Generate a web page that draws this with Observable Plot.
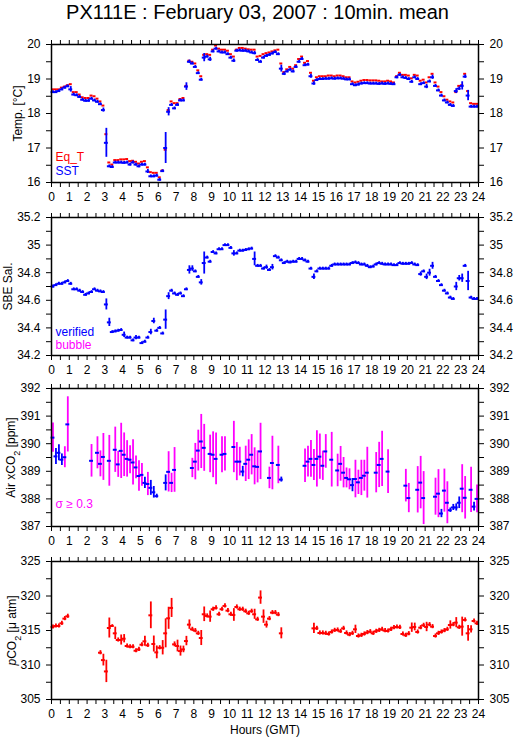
<!DOCTYPE html>
<html><head><meta charset="utf-8">
<script src="https://cdn.jsdelivr.net/npm/d3@7"></script>
<script src="https://cdn.jsdelivr.net/npm/@observablehq/plot@0.6"></script>
<style>
body{margin:0;background:#fff;font-family:"Liberation Sans",Arial,Helvetica,sans-serif;}
#wrap{position:relative;width:515px;height:739px;overflow:hidden;}
#title{position:absolute;left:0;width:515px;top:0;text-align:center;font-size:20px;line-height:24px;color:#000;}
.panel{position:absolute;left:0;}
</style></head><body><div id="wrap"><div id="title">PX111E : February 03, 2007 : 10min. mean</div></div>
<script>
// ---- time grid: 10-minute means, 144 per day ----
const binMinutes = 10;
const hourTicks = [0,1,2,3,4,5,6,7,8,9,10,11,12,13,14,15,16,17,18,19,20,21,22,23,24];
const halfHourTicks = [0.5,1.5,2.5,3.5,4.5,5.5,6.5,7.5,8.5,9.5,10.5,11.5,12.5,13.5,14.5,15.5,16.5,17.5,18.5,19.5,20.5,21.5,22.5,23.5];

// ---- Panel 1: temperature ----
const tempTicks = [16,17,18,19,20];
const tempMinor = [16.5,17.5,18.5,19.5];
const eqT = [18.70,18.70,18.70,18.75,18.78,18.82,18.85,18.62,18.62,18.55,
 18.47,18.45,18.45,18.52,18.50,18.43,18.35,18.23,17.40,16.58,
 16.52,16.65,16.65,16.67,16.67,16.68,16.62,16.63,16.60,16.55,
 16.60,16.62,16.44,16.30,16.28,16.28,16.15,16.35,16.95,18.10,
 18.35,18.30,18.30,18.42,18.45,18.80,19.53,19.50,19.45,19.25,
 19.08,19.70,19.72,19.70,19.85,19.97,19.88,19.85,19.85,19.82,
 19.72,19.65,19.85,19.90,19.90,19.88,19.86,19.85,19.85,19.65,
 19.67,19.72,19.75,19.77,19.80,19.83,19.85,19.45,19.20,19.28,
 19.35,19.30,19.40,19.58,19.65,19.47,19.52,19.18,18.95,19.05,
 19.08,19.08,19.08,19.10,19.10,19.08,19.10,19.10,19.08,19.05,
 19.05,18.93,18.90,18.92,18.95,18.97,18.97,18.96,18.96,18.96,
 18.95,18.93,18.93,18.95,18.93,18.90,19.08,19.18,19.12,19.12,
 19.10,19.02,19.12,19.10,18.95,18.98,18.90,19.05,19.15,18.90,
 18.78,18.62,18.50,18.40,18.35,18.32,18.62,18.80,18.82,19.15,
 18.65,18.30,18.28,18.28];
const sst = [18.62,18.62,18.65,18.70,18.75,18.79,18.70,18.55,18.53,18.48,
 18.40,18.37,18.37,18.43,18.38,18.34,18.27,18.10,17.15,16.47,
 16.45,16.58,16.58,16.58,16.57,16.58,16.52,16.58,16.52,16.47,
 16.52,16.52,16.32,16.18,16.18,16.20,16.08,16.33,17.00,18.05,
 18.25,18.15,18.25,18.38,18.38,18.78,19.50,19.45,19.35,19.17,
 18.98,19.62,19.65,19.57,19.80,19.88,19.80,19.77,19.77,19.72,
 19.62,19.53,19.82,19.83,19.82,19.82,19.80,19.77,19.75,19.55,
 19.50,19.62,19.67,19.70,19.74,19.78,19.72,19.30,19.15,19.22,
 19.27,19.22,19.35,19.50,19.58,19.40,19.42,19.08,18.87,18.97,
 19.00,19.00,19.01,19.01,19.02,19.01,19.02,19.02,19.01,18.99,
 18.99,18.85,18.82,18.84,18.87,18.88,18.88,18.87,18.87,18.87,
 18.86,18.87,18.86,18.87,18.86,18.85,19.05,19.12,19.05,19.03,
 19.00,18.92,19.05,19.00,18.85,18.88,18.78,18.93,19.05,18.80,
 18.67,18.52,18.38,18.32,18.25,18.22,18.65,18.72,18.80,19.07,
 18.52,18.20,18.20,18.20];
const sstSd = [.04,.04,.04,.04,.04,.04,.08,.04,.04,.04,
 .04,.04,.04,.04,.04,.04,.04,.06,.42,.04,
 .04,.04,.04,.04,.04,.04,.04,.04,.04,.04,
 .04,.04,.06,.04,.04,.04,.04,.04,.45,.12,
 .04,.04,.04,.04,.04,.11,.05,.04,.04,.04,
 .04,.12,.04,.06,.04,.04,.04,.04,.04,.04,
 .04,.05,.04,.04,.04,.04,.04,.04,.05,.04,
 .04,.04,.04,.04,.04,.04,.04,.10,.05,.04,
 .04,.04,.04,.04,.04,.04,.04,.06,.05,.04,
 .04,.04,.04,.04,.04,.04,.04,.04,.04,.04,
 .04,.04,.04,.04,.04,.04,.04,.04,.04,.04,
 .04,.04,.04,.04,.04,.04,.04,.04,.04,.04,
 .04,.04,.04,.04,.04,.04,.06,.04,.06,.04,
 .04,.04,.04,.04,.04,.04,.07,.05,.12,.05,
 .15,.04,.04,.04];

// ---- Panel 2: salinity ----
const salTicks = [34.2,34.4,34.6,34.8,35,35.2];
const salMinor = [34.3,34.5,34.7,34.9,35.1];
const sal = [34.70,34.71,34.72,34.72,34.73,34.74,34.72,34.68,34.68,34.67,
 34.66,34.64,34.65,34.66,34.68,34.67,34.665,34.66,34.57,34.44,
 34.37,34.375,34.38,34.385,34.35,34.33,34.33,34.31,34.33,34.33,
 34.29,34.30,34.33,34.37,34.45,34.38,34.40,34.36,34.46,34.63,
 34.67,34.65,34.64,34.65,34.63,34.68,34.82,34.83,34.81,34.77,
 34.73,34.87,34.91,34.88,34.95,34.94,34.97,34.97,35.00,35.00,
 34.98,34.94,34.94,34.96,34.96,34.965,34.97,34.975,34.90,34.85,
 34.85,34.83,34.84,34.82,34.84,34.92,34.91,34.89,34.87,34.88,
 34.875,34.88,34.88,34.90,34.90,34.89,34.88,34.83,34.77,34.81,
 34.83,34.83,34.83,34.83,34.85,34.86,34.86,34.86,34.86,34.86,
 34.86,34.87,34.875,34.87,34.86,34.86,34.85,34.84,34.845,34.86,
 34.87,34.865,34.86,34.86,34.86,34.855,34.855,34.87,34.865,34.865,
 34.865,34.87,34.86,34.855,34.79,34.81,34.77,34.80,34.85,34.77,
 34.74,34.71,34.67,34.65,34.62,34.61,34.70,34.76,34.76,34.85,
 34.74,34.62,34.61,34.61];
const salSd = [.01,.01,.01,.01,.01,.01,.01,.01,.01,.01,
 .01,.01,.01,.01,.01,.01,.01,.01,.04,.03,
 .01,.01,.01,.01,.02,.01,.01,.01,.015,.01,
 .01,.01,.01,.02,.02,.01,.01,.01,.07,.025,
 .01,.01,.01,.01,.01,.01,.03,.02,.01,.01,
 .02,.08,.01,.01,.01,.01,.01,.01,.01,.01,
 .01,.02,.01,.01,.01,.01,.01,.01,.05,.01,
 .01,.01,.015,.01,.02,.01,.01,.01,.01,.01,
 .01,.01,.01,.01,.01,.01,.01,.01,.02,.01,
 .01,.01,.01,.01,.01,.01,.01,.01,.01,.01,
 .01,.01,.01,.01,.01,.01,.01,.01,.01,.01,
 .01,.01,.01,.01,.01,.01,.01,.01,.01,.01,
 .01,.01,.01,.01,.015,.01,.02,.025,.025,.01,
 .01,.01,.01,.01,.01,.01,.03,.02,.03,.01,
 .07,.01,.01,.01];

// ---- Panel 3: atmospheric xCO2 ----
const xco2Ticks = [387,388,389,390,391,392];
const xco2Minor = [387.5,388.5,389.5,390.5,391.5];
const sigmaLimit = 0.3;
const xco2 = [390.22,389.54,389.67,389.42,389.51,390.70,null,null,null,null,
 null,null,null,389.38,null,389.67,389.27,389.52,null,389.38,
 null,389.78,389.25,389.74,389.60,389.45,389.42,389.32,389.14,388.83,
 388.87,388.58,388.54,388.40,388.24,388.10,null,null,388.58,388.98,
 388.58,389.05,null,null,null,null,null,389.12,389.35,389.75,
 390.08,389.85,null,389.63,389.60,389.45,null,389.60,389.63,null,
 null,389.88,389.35,389.35,388.99,389.27,389.42,389.60,389.18,389.16,
 389.72,null,null,388.76,389.30,null,389.23,388.70,null,null,
 null,null,null,null,null,389.20,389.35,389.45,389.23,389.45,
 389.53,389.20,389.72,null,389.42,null,389.03,389.27,388.95,388.76,
 388.71,388.50,388.72,388.60,388.76,388.84,388.95,null,null,388.95,
 389.23,389.45,null,388.99,null,null,null,null,null,388.48,
 388.03,null,null,388.33,388.59,388.03,null,null,null,388.08,
 388.19,387.47,388.30,387.86,387.59,387.69,387.69,387.86,388.37,388.04,
 null,388.33,387.72,388.00];
const xco2Sd = [.53,.29,.29,.21,.38,1.0,null,null,null,null,
 null,null,null,.59,null,.58,.47,.85,null,.92,
 null,.82,.47,1.0,.79,.66,.51,.82,.41,.55,
 .41,.20,.42,.27,.21,.07,null,null,.29,.73,
 .35,.81,null,null,null,null,null,.35,.66,.74,
 .98,.85,null,.68,.83,.94,null,.65,.62,null,
 null,.93,.69,.52,.19,.64,.72,.73,.67,.58,
 1.02,null,null,.39,.97,null,.68,.09,null,null,
 null,null,null,null,null,.61,.56,.67,.56,1.02,
 .82,.53,.61,null,.99,null,.59,.63,.55,.36,
 .38,.24,.68,.44,.64,.56,.92,null,null,.73,
 .82,1.0,null,.79,null,null,null,null,null,.59,
 .53,null,null,.84,.95,.96,null,null,null,.67,
 .87,.15,.78,.76,.08,.11,.13,.21,.87,.77,
 null,.82,.16,.50];

// ---- Panel 4: pCO2 ----
const pco2Ticks = [305,310,315,320,325];
const pco2Minor = [307.5,312.5,317.5,322.5];
const pco2 = [315.51,315.65,315.65,316.04,316.72,317.06,null,null,null,null,
 null,null,null,null,null,null,311.78,310.71,309.07,315.36,
 315.65,314.59,313.62,313.62,313.81,312.75,312.65,312.65,312.07,312.26,
 312.94,313.43,312.85,317.20,313.04,311.83,312.50,312.50,314.59,316.77,
 318.27,312.99,312.75,312.02,312.26,313.47,315.85,315.17,314.98,314.59,
 313.91,317.35,317.11,317.01,318.08,318.27,317.35,318.08,318.56,317.88,
 317.35,317.25,318.41,318.08,318.08,317.79,317.49,317.79,317.35,316.62,
 319.77,317.01,315.85,316.72,317.59,317.59,317.30,314.59,null,null,
 null,null,null,null,null,null,null,null,315.31,315.31,
 314.64,314.64,314.59,314.49,314.78,315.02,315.07,314.88,315.31,314.64,
 314.40,314.59,315.17,314.20,314.30,314.49,314.69,314.83,314.59,314.88,
 315.02,315.17,314.98,314.93,315.17,315.41,315.51,315.46,314.49,314.30,
 314.54,315.41,315.51,314.78,315.41,315.75,315.51,315.85,315.56,314.20,
 314.59,314.78,314.98,315.17,315.80,315.85,316.14,315.46,315.56,316.53,
 314.59,315.17,316.38,316.04];
const pco2Sd = [.3,.3,.3,.3,.3,.3,.3,.3,.3,.3,
 .3,.3,.3,.3,.3,.3,.3,.85,1.62,1.45,
 .2,.9,.3,.73,.6,.3,.3,.3,.3,.3,
 .3,.73,.3,1.94,1.16,.93,.3,1.04,2.1,1.6,
 1.38,.36,.85,.73,.48,.68,.68,.3,.3,.3,
 1.09,1.06,.3,.82,.3,.3,.3,.3,.3,.3,
 .3,.92,.3,.3,.3,.3,.3,.3,.73,.3,
 .97,.97,.5,.3,.3,.3,.3,.8,.3,.3,
 .3,.3,.3,.3,.3,.3,.3,.3,.73,.3,
 .3,.3,.3,.3,.3,.3,.3,.3,.3,.3,
 .3,.3,.6,.3,.3,.3,.3,.3,.3,.3,
 .3,.3,.3,.3,.3,.3,.3,.3,.3,.3,
 .3,.68,.56,.3,.3,.3,.68,.3,.3,.3,
 .3,.3,.3,.3,.6,.3,.73,.3,1.38,.3,
 1.14,.53,.3,.3];

// ---- helpers ----
const RED = "#ff0000", BLUE = "#0000ff", MAG = "#ff00ff";
const step = binMinutes / 60;
function rows(...cols) {
  const n = cols[0][1].length;
  return d3.range(n).map(i => {
    const o = {i, t0: i * step, t1: (i + 1) * step, tc: (i + 0.5) * step};
    cols.forEach(([k, arr]) => o[k] = arr[i]);
    return o;
  }).filter(d => cols.every(([k]) => d[k] != null));
}
const FONT = '"Liberation Sans", Arial, Helvetica, sans-serif';
const halfW = 0.11; // half-width of the horizontal mean tick (hours)

function makePanel({top, domain, ticks, minor, label, labelDx, marks, bottomExtra = 0}) {
  const MT = 10, PH = 138, MB = 26 + bottomExtra;
  const fmt = d => String(d);
  const svg = Plot.plot({
    width: 515, height: MT + PH + MB,
    marginLeft: 51, marginRight: 37, marginTop: MT, marginBottom: MB,
    x: {domain: [0, 24]},
    y: {domain},
    style: {fontFamily: FONT, fontSize: "12px", color: "#000", background: "none", overflow: "visible"},
    marks: [
      Plot.axisX({anchor: "bottom", ticks: hourTicks, tickSize: 5, tickPadding: 5, tickFormat: fmt, label: null}),
      Plot.axisX({anchor: "bottom", ticks: halfHourTicks, tickSize: 5, tickFormat: () => "", label: null}),
      Plot.axisX({anchor: "top", ticks: hourTicks.concat(halfHourTicks), tickSize: 5, tickFormat: () => "", label: null}),
      Plot.axisY({anchor: "left", ticks, tickSize: 5, tickPadding: 6, tickFormat: fmt, label: null}),
      Plot.axisY({anchor: "right", ticks, tickSize: 5, tickPadding: 6, tickFormat: fmt, label: null}),
      Plot.axisY({anchor: "left", ticks: minor, tickSize: 5, tickFormat: () => "", label: null}),
      Plot.axisY({anchor: "right", ticks: minor, tickSize: 5, tickFormat: () => "", label: null}),
      ...marks,
      Plot.frame({stroke: "#000", strokeWidth: 1.5}),
      Plot.text([label], {frameAnchor: "left", dx: labelDx, rotate: -90, textAnchor: "middle", lineAnchor: "middle", fontSize: 12, fill: "#000"})
    ]
  });
  svg.classList.add("panel");
  svg.style.top = (top - MT) + "px";
  document.getElementById("wrap").appendChild(svg);
  return svg;
}

// Panel 1
const tRows = rows(["eq", eqT], ["sst", sst], ["sd", sstSd]);
makePanel({
  top: 44, domain: [16, 20], ticks: tempTicks, minor: tempMinor, label: "Temp. [°C]", labelDx: -33,
  marks: [
    Plot.ruleY(tRows, {y: "eq", x1: "t0", x2: "t1", stroke: RED, strokeWidth: 2}),
    Plot.ruleX(tRows, {x: "tc", y1: d => d.sst - d.sd, y2: d => d.sst + d.sd, stroke: BLUE, strokeWidth: 1.8}),
    Plot.ruleY(tRows, {y: "sst", x1: d => d.tc - halfW, x2: d => d.tc + halfW, stroke: BLUE, strokeWidth: 2}),
    Plot.text(["Eq_T"], {frameAnchor: "bottom-left", dx: 4, dy: -25, lineAnchor: "middle", textAnchor: "start", fill: RED, fontSize: 12}),
    Plot.text(["SST"], {frameAnchor: "bottom-left", dx: 4, dy: -11, lineAnchor: "middle", textAnchor: "start", fill: BLUE, fontSize: 12})
  ]
});

// Panel 2
const sRows = rows(["v", sal], ["sd", salSd]);
makePanel({
  top: 217, domain: [34.2, 35.2], ticks: salTicks, minor: salMinor, label: "SBE Sal.", labelDx: -43,
  marks: [
    Plot.ruleX(sRows, {x: "tc", y1: d => d.v - d.sd, y2: d => d.v + d.sd, stroke: BLUE, strokeWidth: 1.8}),
    Plot.ruleY(sRows, {y: "v", x1: d => d.tc - halfW, x2: d => d.tc + halfW, stroke: BLUE, strokeWidth: 2}),
    Plot.text(["verified"], {frameAnchor: "bottom-left", dx: 4, dy: -23, lineAnchor: "middle", textAnchor: "start", fill: BLUE, fontSize: 12}),
    Plot.text(["bubble"], {frameAnchor: "bottom-left", dx: 4, dy: -10, lineAnchor: "middle", textAnchor: "start", fill: MAG, fontSize: 12})
  ]
});

// Panel 3
const xRows = rows(["v", xco2], ["sd", xco2Sd]);
const p3 = makePanel({
  top: 388, domain: [387, 392], ticks: xco2Ticks, minor: xco2Minor, label: "Air xCO2 [ppm]", labelDx: -40,
  marks: [
    Plot.ruleX(xRows.filter(d => d.sd >= sigmaLimit), {x: "tc", y1: d => d.v - d.sd, y2: d => d.v + d.sd, stroke: MAG, strokeWidth: 1.8}),
    Plot.ruleX(xRows.filter(d => d.sd < sigmaLimit), {x: "tc", y1: d => d.v - d.sd, y2: d => d.v + d.sd, stroke: BLUE, strokeWidth: 1.8}),
    Plot.ruleY(xRows, {y: "v", x1: d => d.tc - halfW, x2: d => d.tc + halfW, stroke: BLUE, strokeWidth: 2}),
    Plot.text(["σ ≥ " + sigmaLimit], {frameAnchor: "bottom-left", dx: 4, dy: -22, lineAnchor: "middle", textAnchor: "start", fill: MAG, fontSize: 12})
  ]
});

// Panel 4
const pRows = rows(["v", pco2], ["sd", pco2Sd]);
const p4 = makePanel({
  top: 561, domain: [305, 325], ticks: pco2Ticks, minor: pco2Minor, label: "pCO2 [μ atm]", labelDx: -39, bottomExtra: 14,
  marks: [
    Plot.ruleX(pRows, {x: "tc", y1: d => d.v - d.sd, y2: d => d.v + d.sd, stroke: RED, strokeWidth: 1.8}),
    Plot.ruleY(pRows, {y: "v", x1: d => d.tc - halfW, x2: d => d.tc + halfW, stroke: RED, strokeWidth: 2}),
    Plot.text(["Hours (GMT)"], {frameAnchor: "bottom", dy: 31, lineAnchor: "middle", fill: "#000", fontSize: 12})
  ]
});

// rich text for the CO2 axis titles (subscript 2, italic p)
function richLabel(svg, plain, html) {
  d3.select(svg).selectAll("text").filter(function () { return this.textContent === plain; }).html(html);
}
richLabel(p3, "Air xCO2 [ppm]", 'Air xCO<tspan baseline-shift="sub" font-size="9">2</tspan> [ppm]');
richLabel(p4, "pCO2 [μ atm]", '<tspan font-style="italic">p</tspan>CO<tspan baseline-shift="sub" font-size="9">2</tspan> [μ atm]');
</script>
</body></html>
